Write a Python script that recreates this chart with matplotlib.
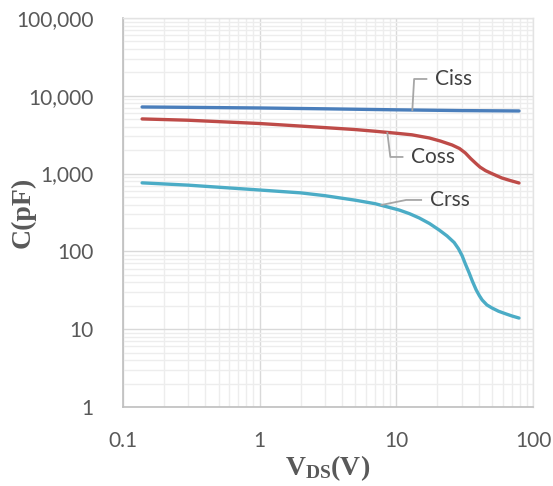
import matplotlib
matplotlib.use("Agg")
import matplotlib.pyplot as plt
from matplotlib.ticker import FixedLocator, LogLocator, NullFormatter

plt.rcParams['font.family'] = ['Lato', 'DejaVu Sans']
plt.rcParams['mathtext.fontset'] = 'custom'
plt.rcParams['mathtext.bf'] = 'Liberation Serif:bold'
plt.rcParams['mathtext.rm'] = 'Liberation Serif:bold'

# values (V, pF)
ciss_v = [0.138, 0.3, 1, 3, 10, 30, 79]
ciss_c = [7180, 7100, 6970, 6800, 6600, 6450, 6380]

coss_v = [0.138, 0.3, 1, 3, 5, 7, 10, 13, 17.4, 21, 25.6, 29, 32, 35, 38.4, 41, 45, 50, 59, 68, 79]
coss_c = [5040, 4850, 4400, 3900, 3680, 3500, 3300, 3150, 2870, 2620, 2330, 2100, 1840, 1560, 1340, 1210, 1090, 1000, 880, 815, 757]

crss_v = [0.138, 0.3, 1, 2, 3, 5, 7, 10.5, 12.5, 14.7, 17.5, 20.6, 23.5, 26.5, 28.5, 30.3, 32, 34.1, 36, 38.4, 40.5, 42.5, 46, 50.2, 56, 63.5, 70, 79]
crss_c = [760, 710, 615, 565, 520, 455, 410, 340, 305, 269, 228, 188, 158, 130, 108, 88, 69, 53, 41.5, 32, 27, 23.7, 20.5, 18.7, 17, 15.7, 14.8, 13.9]

x_ticks = [0.1, 1, 10, 100]
x_labels = ['0.1', '1', '10', '100']
y_ticks = [1, 10, 100, 1000, 10000, 100000]
y_labels = ['1', '10', '100', '1,000', '10,000', '100,000']

fig = plt.figure(figsize=(5.53, 4.86), dpi=100)
ax = fig.add_axes([0.2224, 0.1626, 0.7414, 0.8004])

ax.plot(ciss_v, ciss_c, color='#4A7EBB', linewidth=2.4, solid_capstyle='round', zorder=3)
ax.plot(coss_v, coss_c, color='#BE4B48', linewidth=2.4, solid_capstyle='round', zorder=3)
ax.plot(crss_v, crss_c, color='#4BACC6', linewidth=2.4, solid_capstyle='round', zorder=3)

ax.set_xscale('log')
ax.set_yscale('log')
ax.set_xlim(0.1, 100)
ax.set_ylim(1, 100000)

ax.xaxis.set_major_locator(FixedLocator(x_ticks))
ax.set_xticklabels(x_labels)
ax.yaxis.set_major_locator(FixedLocator(y_ticks))
ax.set_yticklabels(y_labels)
ax.xaxis.set_minor_locator(LogLocator(base=10, subs=range(2, 10), numticks=20))
ax.yaxis.set_minor_locator(LogLocator(base=10, subs=range(2, 10), numticks=20))
ax.xaxis.set_minor_formatter(NullFormatter())
ax.yaxis.set_minor_formatter(NullFormatter())

ax.grid(True, which='major', color='#D9D9D9', linewidth=1.0)
ax.grid(True, which='minor', color='#EDEDED', linewidth=1.0)
ax.set_axisbelow(True)

ax.tick_params(which='both', length=0)
ax.tick_params(axis='y', labelsize=15, labelcolor='#595959', pad=21)
ax.tick_params(axis='x', labelsize=15, labelcolor='#595959', pad=17)

for side in ['left', 'bottom']:
    ax.spines[side].set_color('#BFBFBF')
    ax.spines[side].set_linewidth(1.2)
for side in ['top', 'right']:
    ax.spines[side].set_color('#E3E3E3')
    ax.spines[side].set_linewidth(1.0)

fig.text(0.042, 0.563, 'C(pF)', family='Liberation Serif', fontweight='bold', fontsize=20,
         color='#595959', rotation=90, ha='center', va='center')
ax.set_xlabel(r'$\mathbf{V_{DS}(V)}$', fontsize=20, color='#595959', labelpad=2)

# data labels with leader lines
lead = dict(color='#A6A6A6', linewidth=1.3, zorder=4)
txt = dict(fontsize=15, color='#404040', va='center', ha='left')

ax.plot([13.1, 13.5, 16.6], [6560, 16440, 16440], **lead)
ax.text(19.3, 16440, 'Ciss', **txt)

ax.plot([8.6, 9.04, 11.1], [3330, 1635, 1635], **lead)
ax.text(12.9, 1635, 'Coss', **txt)

ax.plot([7.78, 11.8, 15.2], [395, 458, 458], **lead)
ax.text(17.7, 458, 'Crss', **txt)

fig.savefig('out.png', dpi=100)
